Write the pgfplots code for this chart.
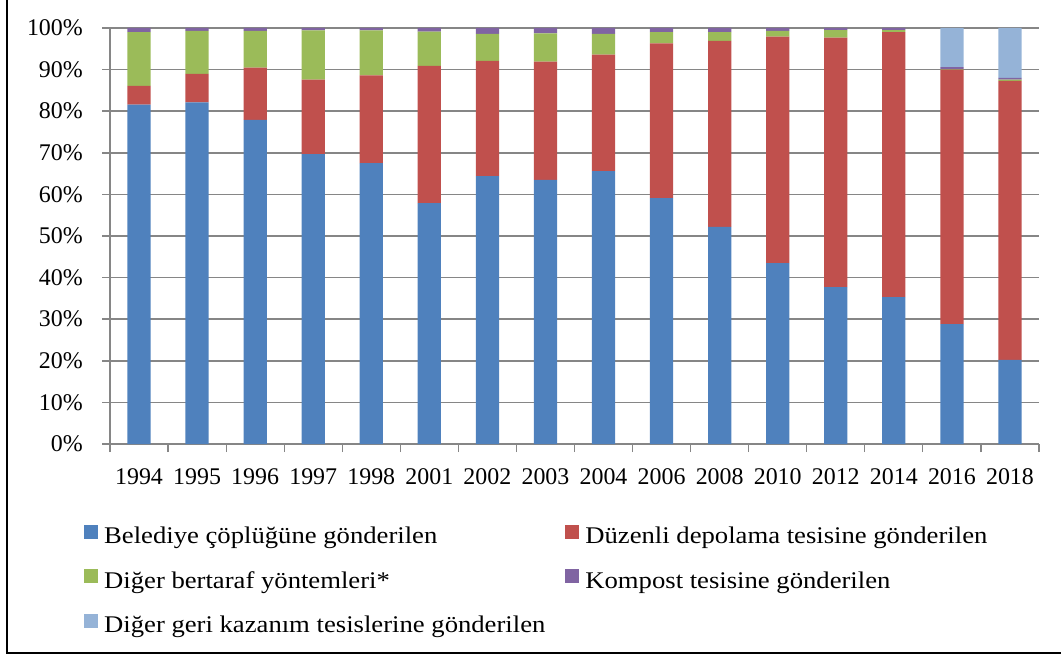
\documentclass[border=0pt]{standalone}
\usepackage{fontspec}
\setmainfont{Liberation Serif}
\newfontfamily\legfont{Liberation Serif}[FakeStretch=1.115]
\usepackage{pgfplots}
\pgfplotsset{compat=1.18}

\definecolor{cBlue}{HTML}{4F81BD}
\definecolor{cRed}{HTML}{C0504D}
\definecolor{cGreen}{HTML}{9BBB59}
\definecolor{cPurple}{HTML}{8064A2}
\definecolor{cLight}{HTML}{95B3D7}
\definecolor{cAxis}{RGB}{134,134,134}

\begin{document}
\fontsize{24}{29}\selectfont
\begin{tikzpicture}
% page = 1061 x 656 px, 1px = 1bp, axis origin at (0,0)
\path[use as bounding box] (-110bp,-212bp) rectangle (951bp,444bp);
\draw[line width=2bp] (-103bp,444bp) -- (-103bp,-209bp) -- (951bp,-209bp);
\begin{axis}[
  at={(0,0)}, anchor=south west,
  scale only axis, width=929bp, height=416bp,
  ybar stacked, bar width=0.4,
  xmin=-0.5, xmax=15.5, ymin=0, ymax=100,
  axis lines*=left,
  axis line style={cAxis, line width=1.6bp},
  xtick={0,...,15},
  xticklabels={1994,1995,1996,1997,1998,2001,2002,2003,2004,2006,2008,2010,2012,2014,2016,2018},
  minor xtick={-0.5,0.5,...,15.5},
  major x tick style={draw=none},
  minor x tick style={cAxis, line width=1.2bp},
  ytick={0,10,...,100},
  yticklabel={\pgfmathprintnumber{\tick}\%},
  y tick style={cAxis, line width=1.6bp},
  tick align=outside,
  major tick length=8bp, minor tick length=8bp,
  ymajorgrids,
  grid style={cAxis, line width=1.6bp},
  /pgf/number format/assume math mode=true,
  every tick label/.append style={inner sep=0bp},
  xticklabel style={yshift=-16bp},
  yticklabel style={xshift=-19bp},
  legend columns=2,
  legend cell align=left,
  legend image code/.code={\fill[#1] (0bp,-1bp) rectangle (14bp,13bp);},
  legend style={draw=none, fill=none, inner sep=0bp, font=\legfont,
    at={(axis description cs:0,0)}, anchor=north west,
    xshift=-26bp, yshift=-80.7bp,
    row sep=19.5bp,
    nodes={inner sep=0bp, text height=18bp, text depth=6bp},
    /tikz/every odd column/.append style={column sep=6bp},
    /tikz/every even column/.append style={column sep=20bp}},
]
\addplot[fill=cBlue, draw=none] coordinates {
  (0,81.6) (1,82.1) (2,77.9) (3,69.7) (4,67.5) (5,57.9) (6,64.4) (7,63.5)
  (8,65.6) (9,59.1) (10,52.2) (11,43.5) (12,37.7) (13,35.3) (14,28.8) (15,20.2)};
\addplot[fill=cRed, draw=none] coordinates {
  (0,4.5) (1,6.9) (2,12.6) (3,17.9) (4,21.1) (5,33.0) (6,27.7) (7,28.4)
  (8,28.0) (9,37.2) (10,44.7) (11,54.4) (12,60.0) (13,63.7) (14,61.2) (15,67.1)};
\addplot[fill=cGreen, draw=none] coordinates {
  (0,12.9) (1,10.3) (2,8.8) (3,11.8) (4,10.8) (5,8.2) (6,6.5) (7,6.8)
  (8,5.0) (9,2.7) (10,2.1) (11,1.4) (12,1.8) (13,0.5) (14,0.1) (15,0.3)};
\addplot[fill=cPurple, draw=none] coordinates {
  (0,1.0) (1,0.7) (2,0.7) (3,0.6) (4,0.6) (5,0.9) (6,1.4) (7,1.3)
  (8,1.4) (9,1.0) (10,1.0) (11,0.7) (12,0.5) (13,0.5) (14,0.5) (15,0.4)};
\addplot[fill=cLight, draw=none] coordinates {
  (0,0) (1,0) (2,0) (3,0) (4,0) (5,0) (6,0) (7,0)
  (8,0) (9,0) (10,0) (11,0) (12,0) (13,0) (14,9.4) (15,12.0)};
\legend{Belediye çöplüğüne gönderilen, Düzenli depolama tesisine gönderilen,
  Diğer bertaraf yöntemleri*, Kompost tesisine gönderilen,
  Diğer geri kazanım tesislerine gönderilen}
\end{axis}
\end{tikzpicture}
\end{document}
